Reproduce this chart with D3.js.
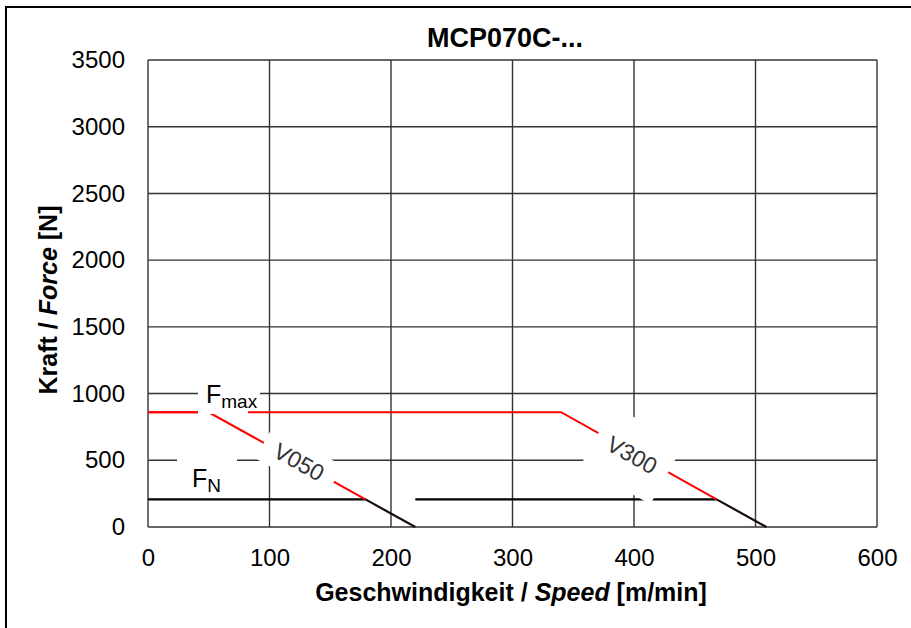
<!DOCTYPE html>
<html>
<head>
<meta charset="utf-8">
<script src="https://cdn.jsdelivr.net/npm/d3@7"></script>
<style>
  body { margin: 0; background: #fff; }
  svg { display: block; font-family: "Liberation Sans", Arial, sans-serif; }
</style>
</head>
<body>
<div id="chart"></div>
<script>
// Chart data
const speedTicks = [0, 100, 200, 300, 400, 500, 600];
const forceTicks = [0, 500, 1000, 1500, 2000, 2500, 3000, 3500];

// V050 winding: red part above F_N, black part below
const v050Red   = [[0, 860], [50, 860], [179, 207]];
const v050Black = [[179, 207], [220, 0]];
// V300 winding
const v300Red   = [[0, 860], [340, 860], [468, 207]];
const v300Black = [[468, 207], [509, 0]];
// nominal force lines F_N
const fnV050 = [[0, 207], [179, 207]];
const fnV300 = [[220, 207], [468, 207]];

const W = 911, H = 628;
const m = { left: 148, top: 60, right: 34, bottom: 101 };
const iw = W - m.left - m.right, ih = H - m.top - m.bottom;

const svg = d3.select("#chart").append("svg")
    .attr("width", W).attr("height", H);

// outer frame (left + top edge only visible)
svg.append("path")
    .attr("d", `M6,${H} L6,7 L${W},7`)
    .attr("fill", "none").attr("stroke", "#000").attr("stroke-width", 2);

const x = d3.scaleLinear().domain([0, 600]).range([0, iw]);
const y = d3.scaleLinear().domain([0, 3500]).range([ih, 0]);

const g = svg.append("g").attr("transform", `translate(${m.left},${m.top})`);

// grid
const gridColor = "#333";
g.append("g").selectAll("line").data(forceTicks).join("line")
    .attr("x1", 0).attr("x2", iw)
    .attr("y1", d => y(d)).attr("y2", d => y(d))
    .attr("stroke", gridColor).attr("stroke-width", 1.4);
g.append("g").selectAll("line").data(speedTicks).join("line")
    .attr("y1", 0).attr("y2", ih)
    .attr("x1", d => x(d)).attr("x2", d => x(d))
    .attr("stroke", gridColor).attr("stroke-width", 1.4);

// axes (labels only)
const yAxis = g.append("g")
    .call(d3.axisLeft(y).tickValues(forceTicks).tickFormat(d3.format("d"))
        .tickSize(0).tickPadding(23));
const xAxis = g.append("g").attr("transform", `translate(0,${ih})`)
    .call(d3.axisBottom(x).tickValues(speedTicks).tickFormat(d3.format("d"))
        .tickSize(0).tickPadding(22));
[yAxis, xAxis].forEach(a => {
    a.select(".domain").remove();
    a.selectAll("text")
        .attr("font-size", "24px")
        .attr("font-family", "Liberation Sans, Arial, sans-serif")
        .attr("fill", "#000");
});

const line = d3.line().x(d => x(d[0])).y(d => y(d[1]));
function curve(data, color, w) {
    g.append("path").datum(data)
        .attr("d", line)
        .attr("fill", "none")
        .attr("stroke", color)
        .attr("stroke-width", w);
}

curve(fnV050, "#000", 2.2);
curve(fnV300, "#000", 2.2);
curve(v300Red, "#ff0000", 2);
curve(v300Black, "#1a0a0a", 2.2);

// F_max label with white backing
function mask(x0, y0, w, h) {
    svg.append("rect").attr("x", x0).attr("y", y0)
        .attr("width", w).attr("height", h).attr("fill", "#fff");
}
mask(198, 381, 50, 33);
mask(246, 381, 14, 20);
const fmax = svg.append("text").attr("x", 206).attr("y", 403)
    .attr("font-size", "25px").attr("fill", "#000");
fmax.append("tspan").text("F");
fmax.append("tspan").attr("font-size", "19px").attr("dy", 5).text("max");

curve(v050Red, "#ff0000", 2);
curve(v050Black, "#1a0a0a", 2.2);

// F_N label
mask(177, 455, 60, 37);
const fn = svg.append("text").attr("x", 192).attr("y", 487)
    .attr("font-size", "25px").attr("fill", "#000");
fn.append("tspan").text("F");
fn.append("tspan").attr("font-size", "19px").attr("dy", 5).text("N");

// rotated winding labels
function windingLabel(txt, cx, cy, bw, bh) {
    const lg = svg.append("g")
        .attr("transform", `translate(${cx},${cy}) rotate(29.2)`);
    lg.append("rect").attr("x", -bw / 2).attr("y", -bh / 2)
        .attr("width", bw).attr("height", bh).attr("fill", "#fff");
    lg.append("text")
        .attr("text-anchor", "middle").attr("dominant-baseline", "central")
        .attr("font-size", "23px").attr("fill", "#333")
        .text(txt);
}
windingLabel("V050", 299, 462, 80, 36);
windingLabel("V300", 632, 455, 80, 68);

// title
svg.append("text")
    .attr("x", 505).attr("y", 47)
    .attr("text-anchor", "middle")
    .attr("font-size", "27px").attr("font-weight", "bold")
    .text("MCP070C-...");

// x axis title
const xt = svg.append("text")
    .attr("x", 511).attr("y", 601)
    .attr("text-anchor", "middle")
    .attr("font-size", "25px").attr("font-weight", "bold");
xt.append("tspan").text("Geschwindigkeit / ");
xt.append("tspan").attr("font-style", "italic").text("Speed");
xt.append("tspan").text(" [m/min]");

// y axis title
const yt = svg.append("text")
    .attr("transform", "translate(57,300) rotate(-90)")
    .attr("text-anchor", "middle")
    .attr("font-size", "25px").attr("font-weight", "bold");
yt.append("tspan").text("Kraft / ");
yt.append("tspan").attr("font-style", "italic").text("Force");
yt.append("tspan").text(" [N]");
</script>
</body>
</html>
